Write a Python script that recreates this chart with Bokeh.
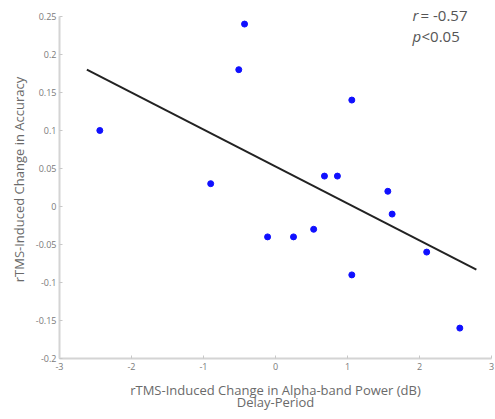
from bokeh.plotting import figure
from bokeh.models import FixedTicker, Label, Range1d
from bokeh.embed import file_html
from bokeh.resources import INLINE

# data
alpha_change = [-2.44, -0.90, -0.51, -0.43, -0.11, 0.25, 0.53, 0.68, 0.86, 1.06, 1.06, 1.56, 1.62, 2.10, 2.56]
acc_change = [0.10, 0.03, 0.18, 0.24, -0.04, -0.04, -0.03, 0.04, 0.04, 0.14, -0.09, 0.02, -0.01, -0.06, -0.16]
fit_x = [-2.62, 2.79]
fit_y = [0.18, -0.083]

x_ticks = [-3, -2, -1, 0, 1, 2, 3]
x_tick_labels = ["-3", "-2", "-1", "0", "1", "2", "3"]
y_ticks = [-0.2, -0.15, -0.1, -0.05, 0, 0.05, 0.1, 0.15, 0.2, 0.25]
y_tick_labels = ["-0.2", "-0.15", "-0.1", "-0.05", "0", "0.05", "0.1", "0.15", "0.2", "0.25"]
x_label = "rTMS-Induced Change in Alpha-band Power (dB)\nDelay-Period"
y_label = "rTMS-Induced Change in Accuracy"

FONT = "Open Sans"
W, H = 495, 419
LEFT, RIGHT, TOP, BOTTOM = 59, 4, 0, 61

p = figure(width=W, height=H, output_backend="svg", toolbar_location=None,
           x_range=Range1d(-3, 3), y_range=Range1d(-0.2, 0.271),
           min_border_left=LEFT, min_border_right=RIGHT, min_border_top=TOP, min_border_bottom=BOTTOM)
p.outline_line_color = None
p.grid.visible = False
p.background_fill_color = "white"
p.border_fill_color = "white"

p.line(fit_x, fit_y, line_color="#222222", line_width=2)
p.scatter(alpha_change, acc_change, size=6, fill_color="#1010ff", line_color="#1010ff")

p.xaxis.ticker = FixedTicker(ticks=x_ticks)
p.xaxis.major_label_overrides = {t: l for t, l in zip(x_ticks, x_tick_labels)}
p.yaxis.ticker = FixedTicker(ticks=y_ticks)
p.yaxis.major_label_overrides = {t: l for t, l in zip(y_ticks, y_tick_labels)}
p.yaxis.bounds = (y_ticks[0], y_ticks[-1])

for ax in (p.xaxis[0], p.yaxis[0]):
    ax.axis_line_color = "#d4d4d4"
    ax.axis_line_width = 2
    ax.major_tick_line_color = "#c8c8c8"
    ax.major_tick_in = 3
    ax.major_tick_out = 0
    ax.minor_tick_line_color = None
    ax.major_label_text_font = FONT
    ax.major_label_text_font_size = "9px"
    ax.major_label_text_color = "#7a7a7a"
    ax.axis_label_text_font = FONT
    ax.axis_label_text_font_size = "13px"
    ax.axis_label_text_color = "#6a6a6a"
    ax.axis_label_text_font_style = "normal"

p.xaxis.axis_label = x_label
p.xaxis.axis_label_text_line_height = 0.72
p.yaxis.axis_label = y_label
p.xaxis.major_label_standoff = 4
p.yaxis.major_label_standoff = 3
p.xaxis.axis_label_standoff = 8
p.yaxis.axis_label_standoff = 5

def add_label(x, y, text, style="normal"):
    p.add_layout(Label(x=x, y=y, x_units="screen", y_units="screen", text=text,
                       text_font=FONT, text_font_size="15px", text_color="#555555",
                       text_font_style=style, text_baseline="middle"))

add_label(353, 344, "r", "italic")
add_label(361, 344, "= -0.57")
add_label(353, 323, "p", "italic")
add_label(362, 323, "<0.05")

open("out.html", "w").write(file_html(p, INLINE))
